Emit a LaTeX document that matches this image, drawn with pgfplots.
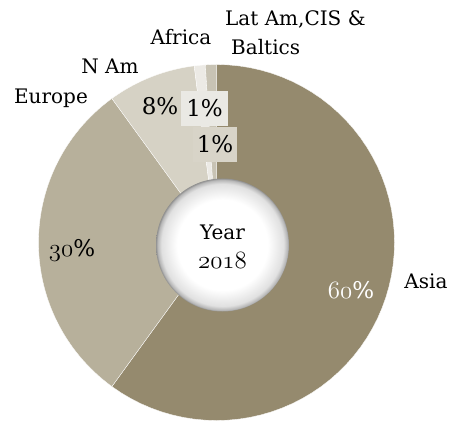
\documentclass[border=0pt]{standalone}
\usepackage{pgfplots}
\pgfplotsset{compat=1.18}
\usepackage{pgfplotstable}
\usepackage{fontspec}
\setmainfont{DejaVu Serif}
% old-style digits taken from the math italic font, at a given size
\newcommand\osf[2]{{\fontsize{#1}{#1}\usefont{OML}{cmm}{m}{it}#2}}

\definecolor{cAsia}{RGB}{149,138,110}
\definecolor{cEur}{RGB}{183,176,155}
\definecolor{cNAm}{RGB}{214,210,197}
\definecolor{cAfr}{RGB}{236,234,229}
\definecolor{cLat}{RGB}{200,195,180}
\definecolor{boxA}{RGB}{234,233,228}
\definecolor{boxB}{RGB}{216,212,200}

\pgfdeclareradialshading{hole}{\pgfpointorigin}{color(0bp)=(white); color(17bp)=(white); color(23bp)=(black!12); color(24.6bp)=(black!30); color(25bp)=(black!45); color(50bp)=(black!45)}

\tikzset{
  lab/.style={font=\fontsize{20}{24}\selectfont},
  pct/.style={font=\fontsize{23}{27}\selectfont},
}

% shares in percent, drawn clockwise from 12 o'clock
\pgfplotstableread{
name   share colour
Asia   60    cAsia
Europe 30    cEur
NAm    8     cNAm
Africa 1     cAfr
LatAm  1     cLat
}\shares

\begin{document}
\begin{tikzpicture}
\begin{axis}[
  x=1pt, y=1pt,
  xmin=-216.5, xmax=236.5, ymin=-181.5, ymax=242.5,
  hide axis, clip=false,
]
\pgfmathsetmacro\cum{0}
\pgfplotsforeachungrouped \i in {0,...,4}{%
  \pgfplotstablegetelem{\i}{share}\of\shares \let\v\pgfplotsretval
  \pgfplotstablegetelem{\i}{colour}\of\shares \let\c\pgfplotsretval
  \pgfmathsetmacro\a{90-3.6*\cum}
  \pgfmathsetmacro\b{90-3.6*(\cum+\v)}
  \edef\slice{\noexpand\addplot[fill=\c, draw=white, line width=0.3pt,
     samples at={0,1,...,60,61,62}]
     ({(x<=60 ? 178 : (x<=61 ? 0 : 178))*cos(x<=60 ? \a+(\b-\a)*x/60 : \a)},
      {(x<=60 ? 178 : (x<=61 ? 0 : 178))*sin(x<=60 ? \a+(\b-\a)*x/60 : \a)});}
  \slice
  \pgfmathsetmacro\cum{\cum+\v}
}

% keep the whole axis area as the picture's bounding box
\path (rel axis cs:0,0) rectangle (rel axis cs:1,1);

\shade[shading=hole] (axis cs:6,-2.5) circle[radius=66.5];
\node[lab, inner sep=0pt] at (axis cs:6,10) {Year};
\node[inner sep=0pt] at (axis cs:6,-18) {\osf{28}{2018}};

\node[lab] at (axis cs:-165.5,144.5) {Europe};
\node[lab] at (axis cs:-106.5,176.5) {N Am};
\node[lab] at (axis cs:-35.5,205.5) {Africa};
\node[lab, anchor=west, inner sep=0pt] at (axis cs:8.5,223.5) {Lat Am,CIS \&};
\node[lab, anchor=west, inner sep=0pt] at (axis cs:14.5,195.5) {Baltics};
\node[lab] at (axis cs:209.5,-38.5) {Asia};

\node[pct] at (axis cs:-144.5,-7.5) {\osf{31}{30}\%};
\node[pct, text=white] at (axis cs:134.5,-47.5) {\osf{31}{60}\%};
\node[pct] at (axis cs:-56.5,136.5) {8\%};
\node[pct, fill=boxA, minimum width=47pt, minimum height=35pt, inner sep=0pt] at (axis cs:-12,134) {1\%};
\node[pct, fill=boxB, minimum width=44pt, minimum height=35pt, inner sep=0pt] at (axis cs:-1.5,98) {1\%};
\end{axis}
\end{tikzpicture}
\end{document}
